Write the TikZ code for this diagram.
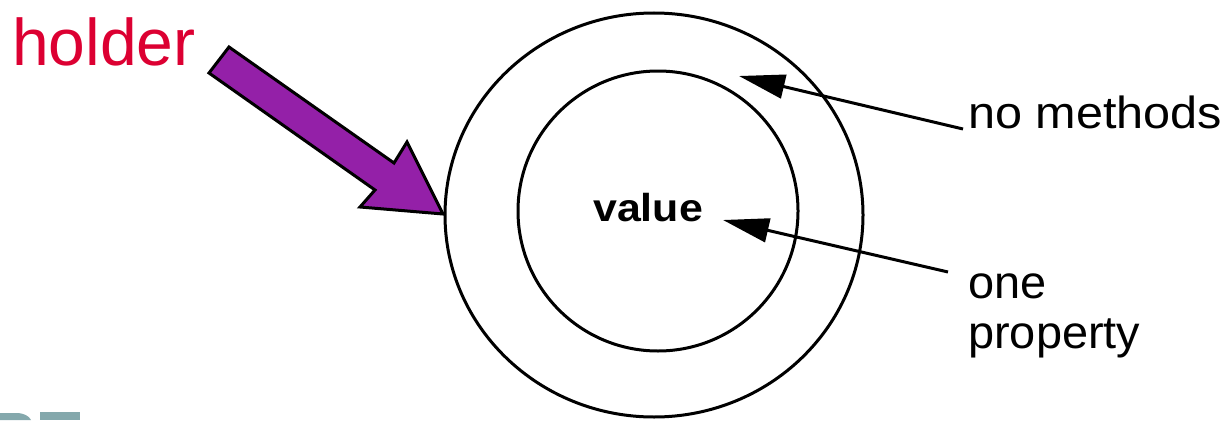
\documentclass[tikz,border=0pt]{standalone}
\usepackage{fontspec}
\setmainfont{Liberation Sans}
\usetikzlibrary{arrows.meta,shapes.geometric}
\definecolor{holderred}{RGB}{220,0,50}
\definecolor{holderpurple}{RGB}{148,32,168}
\definecolor{logogray}{RGB}{132,168,172}
\tikzset{
  ring/.style={draw=black, line width=3pt, inner sep=0pt},
  lbl/.style={inner sep=0pt, anchor=base west, font=\fontsize{46}{50}\selectfont, align=left},
  pointer/.style={draw=black, line width=3pt, -{Triangle[length=46pt,width=24pt]}},
}
\begin{document}
\begin{tikzpicture}[x=1pt,y=-1pt]
\useasboundingbox (0,0) rectangle (1230,420);
% rings
\node[ring, ellipse, minimum width=418pt, minimum height=404pt] (outer) at (654,215) {};
\node[ring, circle, minimum size=280pt] (inner) at (658,211) {};
% holder arrow
\node[inner sep=0pt, anchor=base west, text=holderred, font=\fontsize{66}{70}\selectfont] (holder) at (12,66) {holder};
\draw[line width=3pt, fill=holderpurple, line join=miter]
  (229,47) -- (394,163) -- (407,142) -- (443,214) -- (360,207) -- (375,190) -- (209,73) -- cycle;
% value
\node[inner sep=0pt, anchor=base west, xscale=1.1, font=\fontsize{39}{44}\selectfont\bfseries] (value) at (593,221) {value};
% labels
\node[lbl, xscale=1.08, font=\fontsize{45}{50}\selectfont] (nometh) at (968,128) {no methods};
\node[lbl, xscale=1.02] (oneprop) at (968,348) {one\\property};
\coordinate (nomethstart) at (963,129);
\coordinate (nomethtip) at (739,76);
\coordinate (onepropstart) at (948,272);
\coordinate (oneproptip) at (723,220);
\draw[pointer] (nomethstart) -- (nomethtip);
\draw[pointer] (onepropstart) -- (oneproptip);
% logo fragment
\fill[logogray] (0,413) -- (16,413) .. controls (24,413) and (29,416) .. (31,420) -- (0,420) -- cycle;
\fill[logogray] (40,412) rectangle (80,420);
\end{tikzpicture}
\end{document}
